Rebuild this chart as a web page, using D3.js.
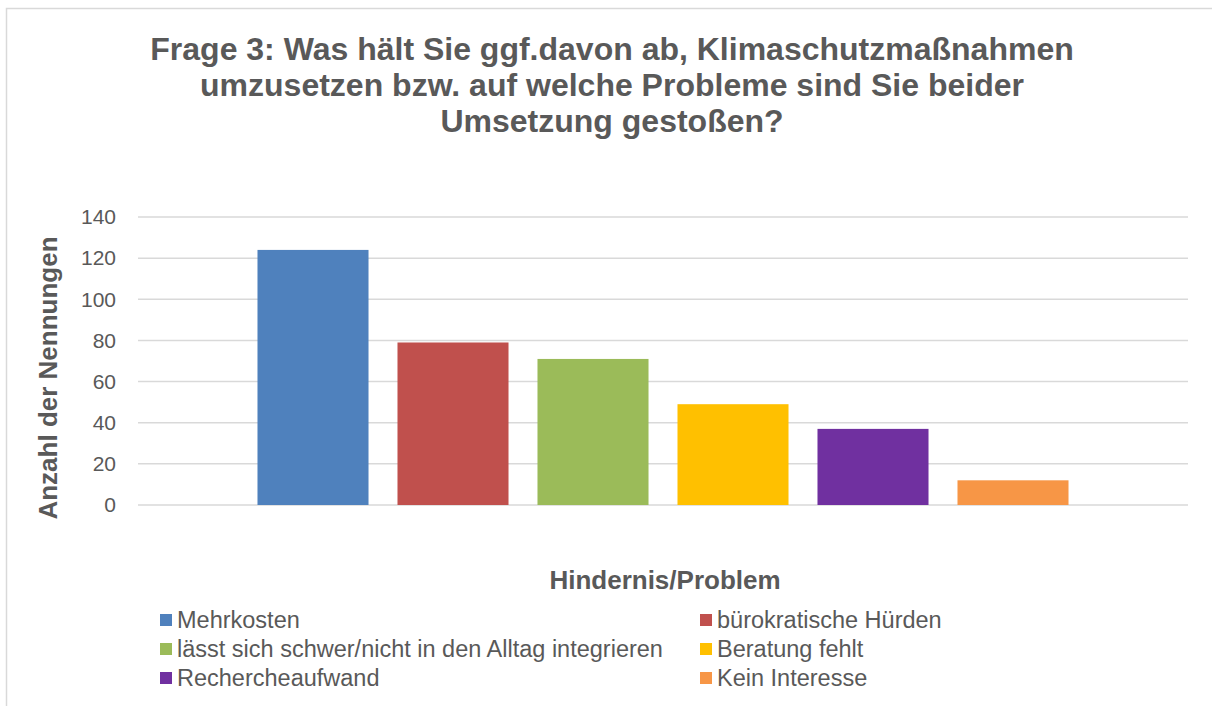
<!DOCTYPE html>
<html>
<head>
<meta charset="utf-8">
<script src="https://cdn.jsdelivr.net/npm/d3@7"></script>
<style>
  body { margin: 0; background: #fff; }
  text { font-family: "Liberation Sans", Arial, sans-serif; }
</style>
</head>
<body>
<div id="chart"></div>
<script>
// data
let categories = ["Mehrkosten", "bürokratische Hürden", "lässt sich schwer/nicht in den Alltag integrieren",
  "Beratung fehlt", "Rechercheaufwand", "Kein Interesse"];
let values = [124, 79, 71, 49, 37, 12];
let colors = ["#4F81BD", "#C0504D", "#9BBB59", "#FFC000", "#7030A0", "#F79646"];
let yTicks = [0, 20, 40, 60, 80, 100, 120, 140];
let titleLines = ["Frage 3: Was hält Sie ggf.davon ab, Klimaschutzmaßnahmen",
  "umzusetzen bzw. auf welche Probleme sind Sie beider",
  "Umsetzung gestoßen?"];

let w = 1212;
let h = 706;
let textColor = "#595959";

let svg = d3.select("#chart")
  .append("svg")
  .attr("width", w)
  .attr("height", h);

// chart frame (only top and left visible in the crop)
svg.append("rect")
  .attr("x", 6.5)
  .attr("y", 8.5)
  .attr("width", 1240)
  .attr("height", 740)
  .attr("fill", "white")
  .attr("stroke", "#D9D9D9")
  .attr("stroke-width", 1.5);

// title
svg.append("text")
  .attr("text-anchor", "middle")
  .attr("font-size", 32)
  .attr("font-weight", "bold")
  .attr("fill", textColor)
  .selectAll("tspan")
  .data(titleLines)
  .join("tspan")
  .attr("x", 612)
  .attr("y", (d, i) => 60 + i * 36)
  .text(d => d);

let plot = { left: 138, right: 1188, top: 217, bottom: 505 };

let x = d3.scaleBand()
  .domain(categories)
  .range([plot.left, plot.right])
  .paddingInner(0.207)
  .paddingOuter(0.8535);

let y = d3.scaleLinear()
  .domain([0, 140])
  .range([plot.bottom, plot.top]);

// gridlines
svg.append("g")
  .selectAll("line")
  .data(yTicks)
  .join("line")
  .attr("x1", plot.left)
  .attr("x2", plot.right)
  .attr("y1", d => y(d))
  .attr("y2", d => y(d))
  .attr("stroke", "#D9D9D9")
  .attr("stroke-width", 1.5);

// y axis labels
let yAxis = svg.append("g")
  .attr("transform", "translate(" + (plot.left - 22) + ",0)")
  .call(d3.axisLeft(y).tickValues(yTicks).tickSize(0).tickPadding(0));
yAxis.select(".domain").remove();
yAxis.selectAll("text")
  .attr("font-size", 21)
  .attr("fill", textColor)
  .attr("font-family", "Liberation Sans, Arial, sans-serif");

// bars
svg.append("g")
  .selectAll("rect")
  .data(values)
  .join("rect")
  .attr("x", (d, i) => x(categories[i]))
  .attr("width", x.bandwidth())
  .attr("y", d => y(d))
  .attr("height", d => y(0) - y(d))
  .attr("fill", (d, i) => colors[i]);

// axis titles
svg.append("text")
  .attr("transform", "translate(57," + ((plot.top + plot.bottom) / 2 + 17) + ") rotate(-90)")
  .attr("text-anchor", "middle")
  .attr("font-size", 26)
  .attr("font-weight", "bold")
  .attr("fill", textColor)
  .text("Anzahl der Nennungen");

svg.append("text")
  .attr("x", 665)
  .attr("y", 589)
  .attr("text-anchor", "middle")
  .attr("font-size", 26)
  .attr("font-weight", "bold")
  .attr("fill", textColor)
  .text("Hindernis/Problem");

// legend, two columns filled row by row
let legend = svg.append("g")
  .selectAll("g")
  .data(categories)
  .join("g")
  .attr("transform", (d, i) => "translate(" + (i % 2 === 0 ? 160 : 700) + "," + (620 + Math.floor(i / 2) * 29) + ")");

legend.append("rect")
  .attr("x", 0)
  .attr("y", -6)
  .attr("width", 12)
  .attr("height", 12)
  .attr("fill", (d, i) => colors[i]);

legend.append("text")
  .attr("x", 17)
  .attr("y", 8)
  .attr("font-size", 23.5)
  .attr("fill", textColor)
  .text(d => d);
</script>
</body>
</html>
